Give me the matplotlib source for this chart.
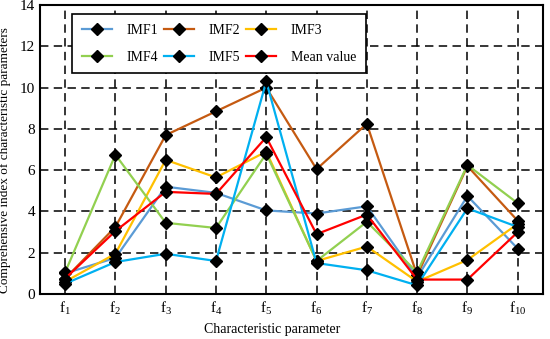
import matplotlib
matplotlib.use("Agg")
import matplotlib.pyplot as plt
import numpy as np

plt.rcParams['font.family'] = ['Liberation Serif', 'DejaVu Serif']
plt.rcParams['mathtext.fontset'] = 'custom'
plt.rcParams['mathtext.rm'] = 'Liberation Serif'
plt.rcParams['mathtext.it'] = 'Liberation Serif:italic'

categories = ['f$_{1}$', 'f$_{2}$', 'f$_{3}$', 'f$_{4}$', 'f$_{5}$',
              'f$_{6}$', 'f$_{7}$', 'f$_{8}$', 'f$_{9}$', 'f$_{10}$']
imf1 = [1.0, 1.75, 5.2, 4.9, 4.05, 3.9, 4.25, 0.8, 4.75, 2.2]
imf2 = [0.75, 3.25, 7.7, 8.85, 10.0, 6.05, 8.25, 0.9, 6.2, 3.55]
imf3 = [0.6, 1.95, 6.5, 5.65, 6.9, 1.6, 2.3, 0.6, 1.65, 3.4]
imf4 = [1.05, 6.75, 3.45, 3.2, 6.8, 1.6, 3.5, 1.05, 6.25, 4.4]
imf5 = [0.5, 1.55, 1.95, 1.6, 10.3, 1.5, 1.15, 0.42, 4.15, 3.25]
mean = [0.75, 3.05, 4.95, 4.85, 7.6, 2.9, 3.85, 0.7, 0.7, 3.0]

series = [
    ('IMF1', imf1, '#5B9BD5'),
    ('IMF2', imf2, '#C55A11'),
    ('IMF3', imf3, '#FFC000'),
    ('IMF4', imf4, '#92D050'),
    ('IMF5', imf5, '#00B0F0'),
    ('Mean value', mean, '#FF0000'),
]

fig = plt.figure(figsize=(5.5, 3.39), dpi=100)
ax = fig.add_axes([0.0727, 0.1327, 0.9143, 0.8523])
x = np.arange(1, len(categories) + 1)

handles = {}
for name, vals, col in series:
    h, = ax.plot(x, vals, color=col, lw=1.6, marker='D', ms=6.5,
                 mfc='black', mec='black', zorder=3)
    handles[name] = h

ax.set_xlim(0.5, 10.5)
ax.set_ylim(0, 14)
ax.set_yticks(np.arange(0, 15, 2))
ax.set_xticks(x)
ax.set_xticklabels(categories)
ax.grid(True, color='black', linestyle=(0, (5.5, 3.5)), linewidth=1.1)
ax.set_axisbelow(True)
ax.tick_params(axis='both', direction='in', length=0, labelsize=11)
ax.tick_params(axis='y', pad=3.5)
ax.tick_params(axis='x', pad=4)
for s in ax.spines.values():
    s.set_linewidth(1.5)
ax.set_xlabel('Characteristic parameter', fontsize=10)
ax.xaxis.set_label_coords(0.462, -0.1)
ax.set_ylabel('Comprehensive index of characteristic parameters', fontsize=9.5)
ax.yaxis.set_label_coords(-0.058, 0.465)

order = ['IMF1', 'IMF4', 'IMF2', 'IMF5', 'IMF3', 'Mean value']
leg = ax.legend([handles[n] for n in order], order, ncol=3,
                loc='upper left', bbox_to_anchor=(0.0636, 0.969),
                fontsize=10, frameon=True, fancybox=False, framealpha=1,
                edgecolor='black', handlelength=2.15, handletextpad=1.05,
                columnspacing=0.45, borderpad=0.7, labelspacing=1.0,
                borderaxespad=0)
leg.get_frame().set_linewidth(1.2)

fig.savefig('out.png', dpi=100)
